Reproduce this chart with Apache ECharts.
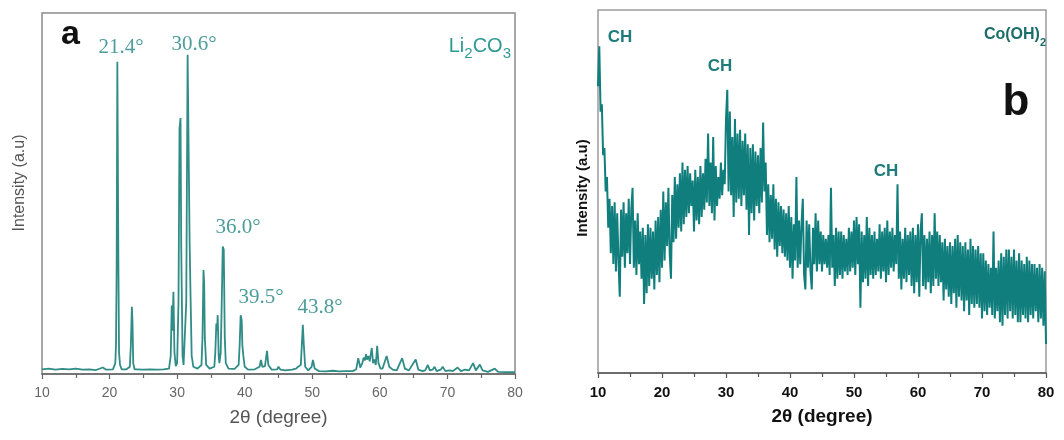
<!DOCTYPE html>
<html>
<head>
<meta charset="utf-8">
<script src="https://cdn.jsdelivr.net/npm/echarts@6/dist/echarts.min.js"></script>
<style>
  html, body { margin: 0; padding: 0; background: #fff; }
  #chart { width: 1064px; height: 440px; }
</style>
</head>
<body>
<div id="chart"></div>
<script>
// panel a: Li2CO3 pattern, [2theta, intensity]
const liPattern = [
  [10, 1.3], [11, 1.5], [12, 1.2], [13, 1.4], [14, 1.3], [15, 1.5], [16, 1.2], [17, 1.3], [18, 1.1],
  [19, 1.8], [19.5, 1.2], [20.5, 1.3], [20.85, 3], [20.95, 8], [21.05, 30], [21.15, 86.5], [21.25, 86],
  [21.3, 32], [21.4, 6], [21.55, 2.5], [21.8, 1.3], [22.5, 1.3], [23.0, 2], [23.15, 8], [23.3, 18.6],
  [23.4, 14], [23.5, 3], [23.7, 1.3], [24, 1.3], [25, 1.2], [26, 1.3], [27, 1.2], [28, 1.3], [28.8, 1.5],
  [29.05, 5], [29.2, 19], [29.3, 12], [29.45, 22.8], [29.6, 6], [29.8, 2.2], [30.0, 3], [30.2, 20],
  [30.35, 68], [30.5, 70.9], [30.6, 36], [30.8, 5], [30.95, 2.5], [31.1, 3], [31.35, 20], [31.55, 88.4],
  [31.7, 88], [31.85, 36], [32.0, 20], [32.15, 5], [32.4, 2], [33, 1.5], [33.6, 2.5], [33.75, 10],
  [33.9, 28.8], [34.0, 25], [34.1, 10], [34.3, 2.5], [34.8, 1.5], [35.5, 2], [35.65, 6], [35.8, 14],
  [35.9, 12], [36.0, 16.3], [36.15, 5], [36.25, 3], [36.45, 6], [36.6, 20], [36.75, 35.3], [36.9, 34.5],
  [37.05, 10], [37.2, 3], [37.6, 1.5], [38.5, 1.4], [39.1, 2.5], [39.25, 8], [39.4, 16.3], [39.55, 15],
  [39.65, 8], [39.8, 5], [40.0, 2], [40.5, 1.2], [41.5, 1.3], [42.2, 2], [42.4, 3.9], [42.6, 2],
  [43.0, 2.2], [43.3, 6.4], [43.5, 2.5], [44, 1.2], [44.8, 1.3], [45.0, 2], [45.3, 1.2], [46, 1],
  [47, 1.2], [47.6, 1.5], [47.9, 2], [48.3, 2.5], [48.45, 8], [48.6, 13.6], [48.75, 8], [48.95, 2],
  [49.4, 1], [49.9, 2], [50.1, 3.9], [50.35, 1.5], [51, 0.8], [52, 0.7], [53, 0.9], [54, 0.7], [55, 0.8],
  [56, 0.8], [56.5, 1.3], [56.8, 4.4], [57.1, 1.8], [57.4, 3], [57.6, 4.5], [57.8, 3.8], [57.95, 5.5],
  [58.1, 4], [58.3, 5], [58.5, 3.5], [58.8, 7.2], [59.0, 3], [59.2, 4], [59.4, 2.5], [59.6, 7.8],
  [59.8, 3], [60.1, 1.5], [60.4, 1.5], [61.0, 5], [61.4, 2], [61.9, 1.2], [62.5, 1], [63.3, 4.4],
  [63.7, 1.5], [64.3, 1], [65.3, 4], [65.7, 1.2], [66.3, 0.8], [66.7, 1], [67.1, 2.5], [67.4, 1],
  [67.8, 1.2], [68.1, 2], [68.4, 0.8], [69.0, 1.2], [69.3, 2], [69.7, 0.8], [70.3, 1], [70.8, 0.8],
  [71.5, 1.8], [72.0, 0.8], [72.6, 1.2], [73.2, 1], [73.8, 3], [74.2, 1], [74.8, 2.6], [75.2, 1],
  [76, 0.6], [77, 1.5], [77.5, 0.6], [78.5, 0.5], [79.5, 0.5], [80, 0.5]
];

// panel b: Co(OH)2 pattern, one reading every 0.2 degree from 10 to 80
const startB = 10;
const stepB = 0.2;
const coIntensity = [
  79, 90, 72, 74, 60, 62, 50, 54, 40, 48,
  33, 46, 30, 47, 28, 44, 31, 21, 45, 32,
  47, 29, 44, 33, 48, 30, 45, 51, 29, 42,
  27, 44, 30, 39, 26, 40, 19, 38, 22, 41,
  24, 40, 26, 39, 23, 42, 27, 43, 25, 45,
  29, 50, 31, 47, 35, 51, 33, 26, 49, 36,
  54, 37, 52, 40, 55, 39, 58, 41, 56, 43,
  57, 44, 55, 46, 53, 39, 56, 42, 54, 41,
  57, 43, 55, 45, 59, 47, 66, 46, 58, 44,
  65, 42, 57, 46, 54, 48, 58, 49, 56, 52,
  70, 78, 50, 72, 49, 65, 43, 70, 47, 66,
  48, 67, 46, 64, 49, 66, 45, 63, 38, 62,
  44, 63, 42, 61, 46, 60, 44, 62, 47, 69,
  50, 58, 38, 52, 36, 49, 37, 52, 34, 48,
  32, 47, 35, 46, 33, 45, 32, 44, 31, 46,
  29, 43, 26, 41, 31, 54, 29, 42, 30, 41,
  48, 27, 23, 42, 29, 41, 28, 23, 40, 30,
  44, 28, 42, 30, 39, 28, 38, 30, 37, 29,
  38, 27, 51, 29, 38, 24, 40, 26, 39, 27,
  39, 26, 38, 28, 37, 27, 40, 28, 39, 29,
  42, 27, 43, 30, 41, 18, 39, 25, 38, 26,
  43, 24, 40, 27, 38, 26, 39, 27, 37, 28,
  41, 26, 39, 28, 40, 25, 42, 27, 39, 29,
  40, 28, 38, 30, 52, 26, 39, 23, 37, 26,
  40, 25, 38, 27, 39, 24, 40, 22, 38, 25,
  41, 21, 39, 44, 24, 38, 23, 37, 25, 39,
  22, 38, 24, 44, 26, 39, 24, 38, 25, 36,
  20, 37, 23, 35, 21, 36, 19, 35, 22, 37,
  18, 38, 21, 36, 20, 35, 17, 36, 20, 34,
  16, 37, 19, 35, 18, 34, 19, 35, 18, 33,
  15, 33, 17, 31, 16, 30, 18, 29, 16, 39,
  15, 29, 17, 31, 14, 33, 13, 32, 16, 34,
  15, 34, 17, 32, 15, 34, 16, 31, 14, 33,
  14, 31, 16, 30, 15, 32, 14, 31, 16, 30,
  15, 30, 17, 29, 14, 30, 15, 29, 13, 28,
  8
];

const xTicks = [10, 20, 30, 40, 50, 60, 70, 80];
const peakLabelsA = ['21.4°', '30.6°', '36.0°', '39.5°', '43.8°'];
const peakLabelsB = ['CH', 'CH', 'CH'];

const coPattern = coIntensity.map((v, i) => [Number((startB + i * stepB).toFixed(1)), v]);

const chart = echarts.init(document.getElementById('chart'));

function xAxisFor(gridIndex, labelStyle, nameStyle, lineColor) {
  return {
    type: 'value',
    gridIndex,
    min: xTicks[0],
    max: xTicks[xTicks.length - 1],
    interval: 10,
    name: '2θ (degree)',
    nameLocation: 'middle',
    nameGap: 34,
    nameTextStyle: nameStyle,
    axisLine: { show: true, lineStyle: { color: lineColor, width: 1.5 } },
    axisTick: { show: true, inside: false, length: 5, lineStyle: { color: lineColor, width: 1.2 } },
    minorTick: { show: true, splitNumber: 2, length: 4, lineStyle: { color: lineColor, width: 1.2 } },
    axisLabel: Object.assign({ margin: 12 }, labelStyle),
    splitLine: { show: false },
    minorSplitLine: { show: false }
  };
}

function yAxisFor(gridIndex) {
  return {
    type: 'value',
    gridIndex,
    min: 0,
    max: 100,
    axisLine: { show: false },
    axisTick: { show: false },
    axisLabel: { show: false },
    splitLine: { show: false }
  };
}

const serifPeak = '21px "Liberation Serif"';
const peakColor = '#4e9d9b';
const chColor = '#1e7c7a';
const chFont = 'bold 17px "Liberation Sans"';

const option = {
  animation: false,
  grid: [
    { left: 42, right: 549, top: 13, bottom: 66, show: true, borderColor: '#8c8c8c', borderWidth: 1.5 },
    { left: 598, right: 18, top: 10, bottom: 67, show: true, borderColor: '#9a9a9a', borderWidth: 1.5 }
  ],
  xAxis: [
    xAxisFor(0,
      { color: '#666', fontSize: 14, fontFamily: 'Liberation Sans' },
      { color: '#555', fontSize: 19, fontFamily: 'Liberation Sans' },
      '#666'),
    xAxisFor(1,
      { color: '#111', fontSize: 15, fontWeight: 'bold', fontFamily: 'Liberation Sans' },
      { color: '#111', fontSize: 19, fontWeight: 'bold', fontFamily: 'Liberation Sans' },
      '#555')
  ],
  yAxis: [yAxisFor(0), yAxisFor(1)],
  series: [
    {
      type: 'line',
      xAxisIndex: 0,
      yAxisIndex: 0,
      data: liPattern,
      showSymbol: false,
      lineStyle: { color: '#2f8c86', width: 1.8 }
    },
    {
      type: 'line',
      xAxisIndex: 1,
      yAxisIndex: 1,
      data: coPattern,
      showSymbol: false,
      lineStyle: { color: '#0f7e7c', width: 2 }
    }
  ],
  graphic: [
    // panel a
    { type: 'text', x: 20, y: 183, rotation: Math.PI / 2,
      style: { text: 'Intensity (a.u)', font: '16px "Liberation Sans"', fill: '#555', textAlign: 'center', textVerticalAlign: 'middle' } },
    { type: 'text', x: 61, y: 35,
      style: { text: 'a', font: 'bold 34px "Liberation Sans"', fill: '#111', textAlign: 'left', textVerticalAlign: 'middle' } },
    { type: 'text', x: 121, y: 47, style: { text: peakLabelsA[0], font: serifPeak, fill: peakColor, textAlign: 'center', textVerticalAlign: 'middle' } },
    { type: 'text', x: 194, y: 44, style: { text: peakLabelsA[1], font: serifPeak, fill: peakColor, textAlign: 'center', textVerticalAlign: 'middle' } },
    { type: 'text', x: 238, y: 227, style: { text: peakLabelsA[2], font: serifPeak, fill: peakColor, textAlign: 'center', textVerticalAlign: 'middle' } },
    { type: 'text', x: 261, y: 297, style: { text: peakLabelsA[3], font: serifPeak, fill: peakColor, textAlign: 'center', textVerticalAlign: 'middle' } },
    { type: 'text', x: 320, y: 307, style: { text: peakLabelsA[4], font: serifPeak, fill: peakColor, textAlign: 'center', textVerticalAlign: 'middle' } },
    { type: 'text', x: 511, y: 46,
      style: {
        text: '{m|Li}{s|2}{m|CO}{s|3}', textAlign: 'right', textVerticalAlign: 'middle',
        rich: {
          m: { font: '20px "Liberation Sans"', fill: '#2e9a92', color: '#2e9a92', lineHeight: 24, verticalAlign: 'middle' },
          s: { font: '15px "Liberation Sans"', fill: '#2e9a92', color: '#2e9a92', lineHeight: 30, verticalAlign: 'bottom' }
        }
      } },
    // panel b
    { type: 'text', x: 583, y: 188, rotation: Math.PI / 2,
      style: { text: 'Intensity (a.u)', font: 'bold 15px "Liberation Sans"', fill: '#111', textAlign: 'center', textVerticalAlign: 'middle' } },
    { type: 'text', x: 620, y: 37, style: { text: peakLabelsB[0], font: chFont, fill: chColor, textAlign: 'center', textVerticalAlign: 'middle' } },
    { type: 'text', x: 720, y: 66, style: { text: peakLabelsB[1], font: chFont, fill: chColor, textAlign: 'center', textVerticalAlign: 'middle' } },
    { type: 'text', x: 886, y: 171, style: { text: peakLabelsB[2], font: chFont, fill: chColor, textAlign: 'center', textVerticalAlign: 'middle' } },
    { type: 'text', x: 1046, y: 35,
      style: {
        text: '{m|Co(OH)}{s|2}', textAlign: 'right', textVerticalAlign: 'middle',
        rich: {
          m: { font: 'bold 16px "Liberation Sans"', fill: '#1c6e6b', color: '#1c6e6b', lineHeight: 20, verticalAlign: 'middle' },
          s: { font: 'bold 11px "Liberation Sans"', fill: '#1c6e6b', color: '#1c6e6b', lineHeight: 26, verticalAlign: 'bottom' }
        }
      } },
    { type: 'text', x: 1016, y: 103,
      style: { text: 'b', font: 'bold 44px "Liberation Sans"', fill: '#111', textAlign: 'center', textVerticalAlign: 'middle' } }
  ]
};

chart.setOption(option);
</script>
</body>
</html>
